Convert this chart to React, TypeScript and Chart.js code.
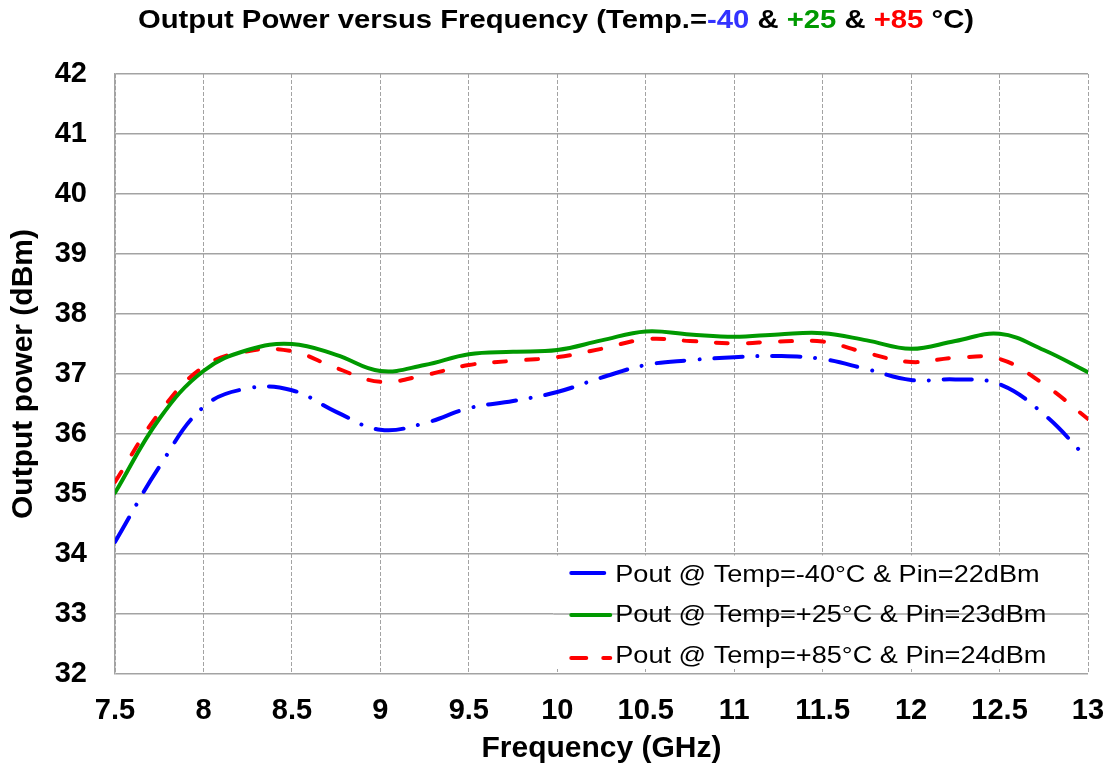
import React, { useEffect, useRef } from 'react';
import { Chart, registerables } from 'chart.js';

Chart.register(...registerables);

// ---- data ----
const frequencies = [7.5, 7.75, 8, 8.25, 8.5, 8.75, 9, 9.25, 9.5, 9.75, 10, 10.25, 10.5, 10.75, 11, 11.25, 11.5, 11.75, 12, 12.25, 12.5, 12.75, 13];
const poutMinus40 = [34.2, 35.45, 36.45, 36.76, 36.73, 36.37, 36.07, 36.18, 36.43, 36.55, 36.7, 36.94, 37.15, 37.23, 37.28, 37.3, 37.25, 37.08, 36.9, 36.91, 36.83, 36.33, 35.58];
const poutPlus25 = [35.02, 36.25, 37.05, 37.4, 37.5, 37.32, 37.05, 37.15, 37.33, 37.37, 37.4, 37.56, 37.71, 37.66, 37.62, 37.66, 37.68, 37.56, 37.42, 37.55, 37.67, 37.4, 37.03];
const poutPlus85 = [35.2, 36.35, 37.12, 37.38, 37.38, 37.1, 36.87, 36.98, 37.15, 37.22, 37.28, 37.42, 37.58, 37.55, 37.51, 37.54, 37.54, 37.35, 37.2, 37.27, 37.25, 36.83, 36.25];

const xTickValues = [7.5, 8, 8.5, 9, 9.5, 10, 10.5, 11, 11.5, 12, 12.5, 13];
const yTickValues = [32, 33, 34, 35, 36, 37, 38, 39, 40, 41, 42];

const seriesLabels = [
  'Pout @ Temp=-40°C & Pin=22dBm',
  'Pout @ Temp=+25°C & Pin=23dBm',
  'Pout @ Temp=+85°C & Pin=24dBm',
];
const titleParts = ['Output Power versus Frequency (Temp.=', '-40', ' & ', '+25', ' & ', '+85', ' °C)'];
const xAxisTitle = 'Frequency (GHz)';
const yAxisTitle = 'Output power (dBm)';

// ---- styles ----
const FONT = '"Liberation Sans", Arial, Helvetica, sans-serif';
const BLUE = '#0000ff';
const GREEN = '#009900';
const RED = '#ff0000';
const GRID = '#a3a3a3';
const titleColors = ['#000', '#3333ff', '#000', '#009900', '#000', '#ff0000', '#000'];

const toPoints = (ys: number[]) => frequencies.map((f, i) => ({ x: f, y: ys[i] }));

const insideLegend = {
  id: 'insideLegend',
  beforeDatasetsDraw(chart: any) {
    const { ctx, scales } = chart;
    const xs = scales.x;
    const ys = scales.y;
    const left = xs.getPixelForValue(10) - 4;
    const right = xs.getPixelForValue(13) - 2;
    const top = ys.getPixelForValue(34) + 1.5;
    const bottom = ys.getPixelForValue(32) - 5;
    ctx.save();
    ctx.fillStyle = '#ffffff';
    ctx.fillRect(left, top, right - left, bottom - top);
    const y33 = ys.getPixelForValue(33);
    ctx.strokeStyle = GRID;
    ctx.lineWidth = 1.5;
    ctx.beginPath();
    ctx.moveTo(left, y33);
    ctx.lineTo(right, y33);
    ctx.stroke();
    ctx.restore();
  },
  afterDatasetsDraw(chart: any) {
    const { ctx, scales } = chart;
    const xs = scales.x;
    const ys = scales.y;
    const x0 = xs.getPixelForValue(10);
    const base = ys.getPixelForValue(34);
    const lineYs = [base + 19, base + 61, base + 104];
    const textYs = [base + 21.5, base + 61.5, base + 102.5];
    const colors = [BLUE, GREEN, RED];
    ctx.save();
    ctx.lineCap = 'round';
    ctx.lineWidth = 4;
    for (let i = 0; i < 3; i++) {
      ctx.strokeStyle = colors[i];
      ctx.beginPath();
      if (i === 0) {
        ctx.moveTo(x0 + 14, lineYs[i]);
        ctx.lineTo(x0 + 47, lineYs[i]);
      } else if (i === 1) {
        ctx.moveTo(x0 + 14, lineYs[i]);
        ctx.lineTo(x0 + 53, lineYs[i]);
      } else {
        ctx.moveTo(x0 + 14, lineYs[i]);
        ctx.lineTo(x0 + 29, lineYs[i]);
        ctx.moveTo(x0 + 46, lineYs[i]);
        ctx.lineTo(x0 + 53, lineYs[i]);
      }
      ctx.stroke();
    }
    ctx.fillStyle = '#000';
    ctx.font = `24px ${FONT}`;
    ctx.textBaseline = 'middle';
    ctx.textAlign = 'left';
    for (let i = 0; i < 3; i++) {
      ctx.save();
      ctx.translate(x0 + 58, textYs[i]);
      ctx.scale(1.13, 1);
      ctx.fillText(seriesLabels[i], 0, 0);
      ctx.restore();
    }
    ctx.restore();
  },
};

export default function App() {
  const canvasRef = useRef<HTMLCanvasElement | null>(null);

  useEffect(() => {
    const canvas = canvasRef.current;
    if (!canvas) return;
    const chart = new Chart(canvas, {
      type: 'line',
      data: {
        datasets: [
          {
            label: seriesLabels[0],
            data: toPoints(poutMinus40),
            borderColor: BLUE,
            backgroundColor: BLUE,
            borderWidth: 4,
            borderDash: [28, 15, 0.01, 15],
            borderCapStyle: 'round',
            pointRadius: 0,
            tension: 0.4,
            fill: false,
          },
          {
            label: seriesLabels[1],
            data: toPoints(poutPlus25),
            borderColor: GREEN,
            backgroundColor: GREEN,
            borderWidth: 4,
            borderCapStyle: 'round',
            pointRadius: 0,
            tension: 0.4,
            fill: false,
          },
          {
            label: seriesLabels[2],
            data: toPoints(poutPlus85),
            borderColor: RED,
            backgroundColor: RED,
            borderWidth: 4,
            borderDash: [12, 20],
            borderCapStyle: 'round',
            pointRadius: 0,
            tension: 0.4,
            fill: false,
          },
        ],
      },
      options: {
        animation: false,
        responsive: false,
        devicePixelRatio: 1,
        layout: { padding: { left: 0, top: 74, right: 27, bottom: 0 } },
        plugins: {
          legend: { display: false },
          title: { display: false },
          tooltip: { enabled: false },
        },
        scales: {
          x: {
            type: 'linear',
            min: 7.5,
            max: 13,
            afterBuildTicks: (axis: any) => {
              axis.ticks = xTickValues.map((v) => ({ value: v }));
            },
            afterFit: (axis: any) => {
              axis.height = 96;
              axis.paddingLeft = 0;
              axis.paddingRight = 0;
            },
            grid: {
              color: GRID,
              lineWidth: 1,
              drawTicks: false,
            },
            border: { display: false, dash: [4, 2] },
            ticks: {
              padding: 20,
              color: '#000',
              font: { family: FONT, size: 29, weight: 'bold' },
              maxRotation: 0,
              autoSkip: false,
              callback: (v: any) => String(v),
            },
            title: {
              display: true,
              text: xAxisTitle,
              color: '#000',
              font: { family: FONT, size: 30, weight: 'bold' },
              padding: { top: 0, bottom: 3 },
            },
          },
          y: {
            type: 'linear',
            min: 32,
            max: 42,
            afterBuildTicks: (axis: any) => {
              axis.ticks = yTickValues.map((v) => ({ value: v }));
            },
            afterFit: (axis: any) => {
              axis.width = 115;
              axis.paddingTop = 0;
              axis.paddingBottom = 0;
            },
            grid: {
              color: GRID,
              lineWidth: 1.5,
              drawTicks: false,
            },
            border: { display: true, color: GRID, width: 1.5 },
            ticks: {
              padding: 28,
              color: '#000',
              font: { family: FONT, size: 29, weight: 'bold' },
              autoSkip: false,
              callback: (v: any) => String(v),
            },
            title: {
              display: true,
              text: yAxisTitle,
              color: '#000',
              font: { family: FONT, size: 30, weight: 'bold' },
              padding: { top: 6, bottom: 0 },
            },
          },
        },
      },
      plugins: [insideLegend],
    } as any);
    return () => chart.destroy();
  }, []);

  return (
    <div style={{ position: 'absolute', left: 0, top: 0, width: 1115, height: 770, background: '#fff' }}>
      <canvas ref={canvasRef} width={1115} height={770} style={{ position: 'absolute', left: 0, top: 0, width: 1115, height: 770 }} />
      <div
        style={{
          position: 'absolute',
          left: 0,
          top: 7,
          width: 1112,
          textAlign: 'center',
          fontFamily: FONT,
          fontWeight: 'bold',
          fontSize: 25,
          lineHeight: '25px',
          whiteSpace: 'pre',
          transform: 'scaleX(1.17)',
          transformOrigin: '556px 0',
        }}
      >
        {titleParts.map((t, i) => (
          <span key={i} style={{ color: titleColors[i] }}>{t}</span>
        ))}
      </div>
    </div>
  );
}
